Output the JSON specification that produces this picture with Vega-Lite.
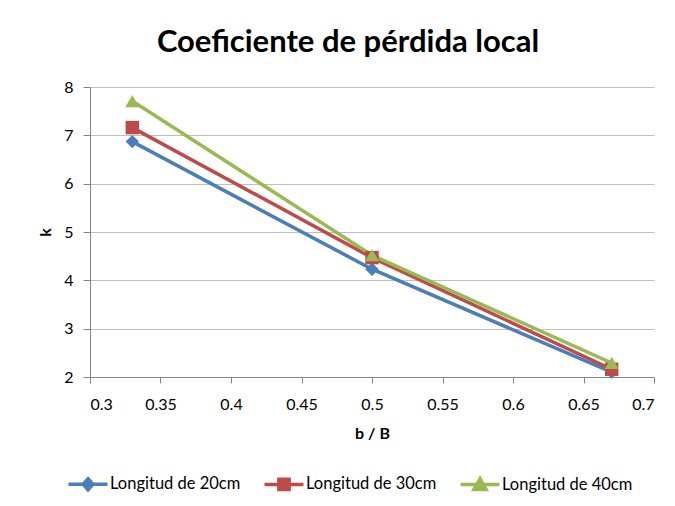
{
  "$schema": "https://vega.github.io/schema/vega-lite/v6.json",
  "width": 564,
  "height": 290,
  "autosize": {"type": "none"},
  "padding": {"left": 90, "top": 87, "right": 21, "bottom": 129},
  "background": "white",
  "title": {"text": "Coeficiente de pérdida local", "font": "Lato", "fontSize": 31, "fontWeight": "bold", "color": "black", "offset": 20, "dx": -24, "anchor": "middle"},
  "data": {"values": [
    {"serie": "Longitud de 20cm", "bB": 0.33, "k": 6.87},
    {"serie": "Longitud de 20cm", "bB": 0.5, "k": 4.23},
    {"serie": "Longitud de 20cm", "bB": 0.67, "k": 2.1},
    {"serie": "Longitud de 30cm", "bB": 0.33, "k": 7.16},
    {"serie": "Longitud de 30cm", "bB": 0.5, "k": 4.47},
    {"serie": "Longitud de 30cm", "bB": 0.67, "k": 2.16},
    {"serie": "Longitud de 40cm", "bB": 0.33, "k": 7.71},
    {"serie": "Longitud de 40cm", "bB": 0.5, "k": 4.52},
    {"serie": "Longitud de 40cm", "bB": 0.67, "k": 2.29}
  ]},
  "encoding": {
    "x": {"field": "bB", "type": "quantitative", "scale": {"domain": [0.3, 0.7], "nice": false, "zero": false},
      "axis": {"title": "b / B", "values": [0.3, 0.35, 0.4, 0.45, 0.5, 0.55, 0.6, 0.65, 0.7], "format": "~g", "grid": false, "tickSize": 6, "labelPadding": 13, "titlePadding": 13}},
    "y": {"field": "k", "type": "quantitative", "scale": {"domain": [2, 8], "nice": false, "zero": false},
      "axis": {"title": "k", "values": [2, 3, 4, 5, 6, 7, 8], "grid": true, "tickSize": 7, "labelPadding": 10, "titlePadding": 10}},
    "color": {"field": "serie", "type": "nominal",
      "scale": {"domain": ["Longitud de 20cm", "Longitud de 30cm", "Longitud de 40cm"], "range": ["#4A7EBB", "#BE4B48", "#98B954"]},
      "legend": {"title": null, "orient": "none", "direction": "horizontal", "legendX": -16, "legendY": 383,
        "symbolSize": 595, "labelOffset": 8, "columnPadding": 16, "labelFontSize": 16.5, "labelFont": "Lato", "labelColor": "black",
        "encode": {"symbols": {"update": {
          "shape": {"signal": "datum.value === 'Longitud de 20cm' ? 'M-1.6,0H1.6M0,-0.45L0.4,0L0,0.45L-0.4,0Z' : datum.value === 'Longitud de 30cm' ? 'M-1.6,0H1.6M-0.42,-0.42H0.42V0.42H-0.42Z' : 'M-1.6,0H1.6M0,-0.48L0.5,0.4H-0.5Z'"},
          "fill": {"signal": "scale('color', datum.value)"},
          "stroke": {"signal": "scale('color', datum.value)"},
          "strokeWidth": {"value": 3.5},
          "opacity": {"value": 1}
        }}}}
    }
  },
  "layer": [
    {"mark": {"type": "line", "strokeWidth": 3.5}},
    {"transform": [{"filter": "datum.serie === 'Longitud de 20cm'"}], "mark": {"type": "point", "shape": "diamond", "filled": true, "size": 180, "opacity": 1}},
    {"transform": [{"filter": "datum.serie === 'Longitud de 30cm'"}], "mark": {"type": "point", "shape": "square", "filled": true, "size": 180, "opacity": 1}},
    {"transform": [{"filter": "datum.serie === 'Longitud de 40cm'"}], "mark": {"type": "point", "shape": "triangle-up", "filled": true, "size": 200, "opacity": 1}}
  ],
  "config": {
    "view": {"stroke": null},
    "axis": {"labelFont": "Lato", "labelFontSize": 16, "labelColor": "black", "titleFont": "Lato", "titleFontSize": 16, "titleFontWeight": "bold", "titleColor": "black",
      "domainColor": "#868686", "tickColor": "#868686", "gridColor": "#BFBFBF", "domainWidth": 1, "gridWidth": 1},
    "axisY": {"titleAngle": -90}
  }
}
